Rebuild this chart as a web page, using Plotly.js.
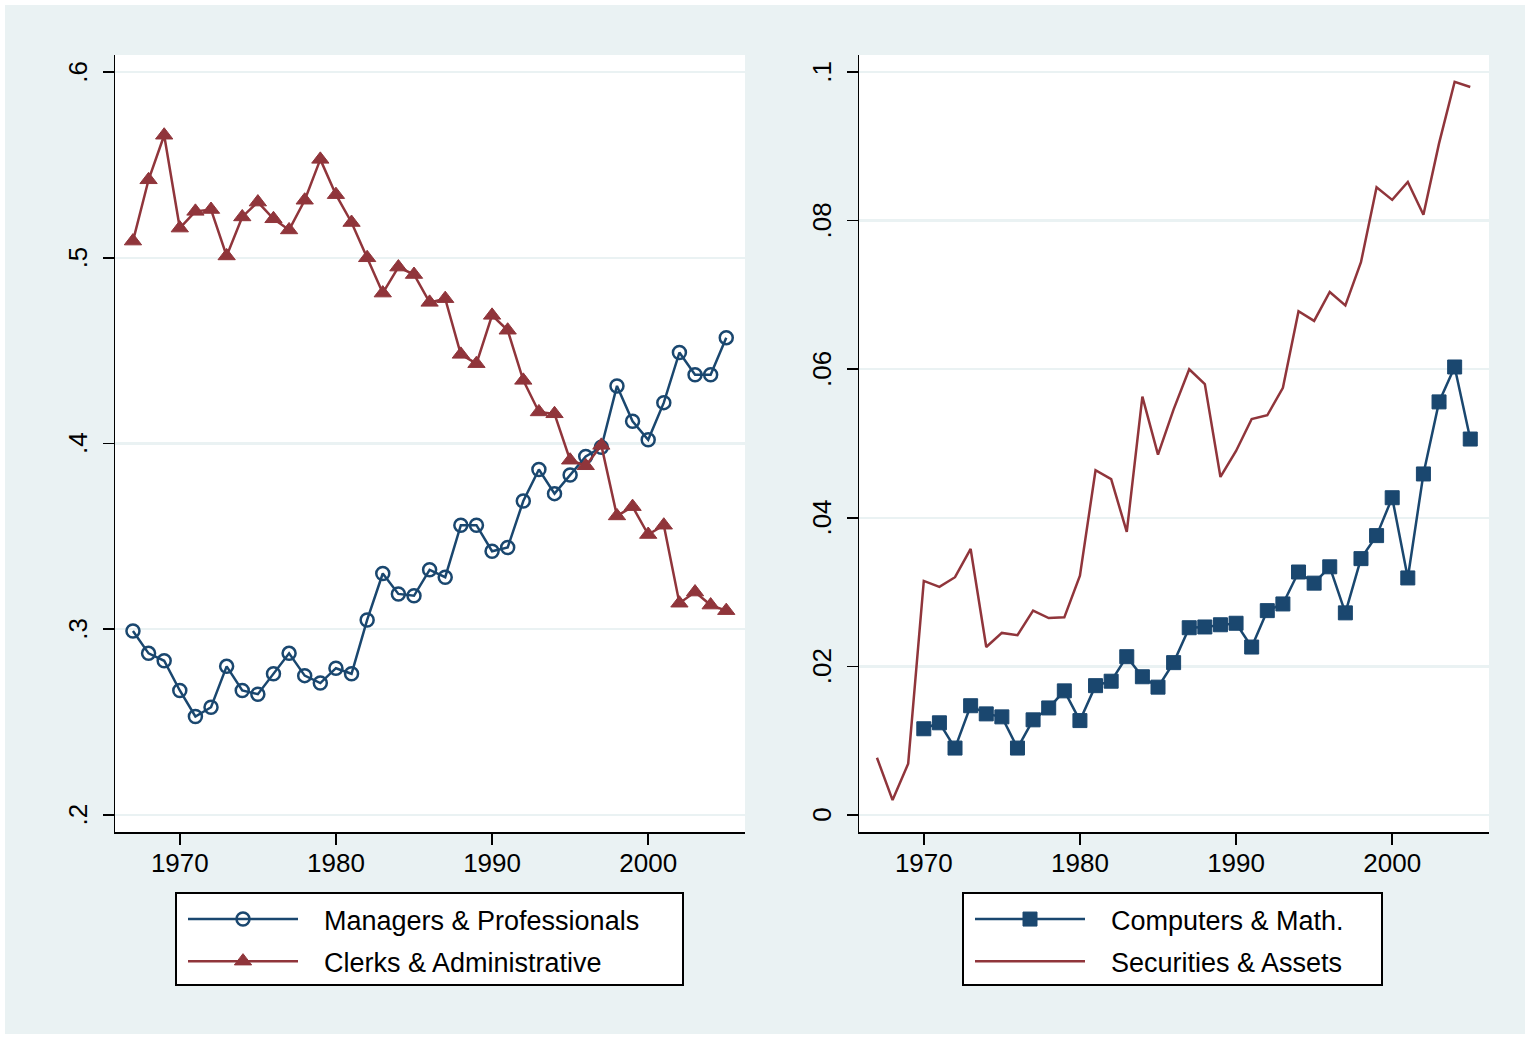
<!DOCTYPE html>
<html>
<head>
<meta charset="utf-8">
<script src="https://cdn.plot.ly/plotly-3.0.1.min.js"></script>
<style>
  html, body { margin: 0; padding: 0; background: #ffffff; }
  #chart { width: 1530px; height: 1039px; }
</style>
</head>
<body>
<div id="chart"></div>
<script>
// ---------- data ----------
var years = [1967, 1968, 1969, 1970, 1971, 1972, 1973, 1974, 1975, 1976,
             1977, 1978, 1979, 1980, 1981, 1982, 1983, 1984, 1985, 1986,
             1987, 1988, 1989, 1990, 1991, 1992, 1993, 1994, 1995, 1996,
             1997, 1998, 1999, 2000, 2001, 2002, 2003, 2004, 2005];

var managers = [0.299, 0.287, 0.283, 0.267, 0.253, 0.258, 0.280, 0.267, 0.265, 0.276,
                0.287, 0.275, 0.271, 0.279, 0.276, 0.305, 0.330, 0.319, 0.318, 0.332,
                0.328, 0.356, 0.356, 0.342, 0.344, 0.369, 0.386, 0.373, 0.383, 0.393,
                0.398, 0.431, 0.412, 0.402, 0.422, 0.449, 0.437, 0.437, 0.457];

var clerks = [0.509, 0.542, 0.566, 0.516, 0.525, 0.526, 0.501, 0.522, 0.530, 0.521,
              0.515, 0.531, 0.553, 0.534, 0.519, 0.500, 0.481, 0.495, 0.491, 0.476,
              0.478, 0.448, 0.443, 0.469, 0.461, 0.434, 0.417, 0.416, 0.391, 0.388,
              0.399, 0.361, 0.366, 0.351, 0.356, 0.314, 0.320, 0.313, 0.310];

var compYears = [1970, 1971, 1972, 1973, 1974, 1975, 1976, 1977, 1978, 1979,
                 1980, 1981, 1982, 1983, 1984, 1985, 1986, 1987, 1988, 1989,
                 1990, 1991, 1992, 1993, 1994, 1995, 1996, 1997, 1998, 1999,
                 2000, 2001, 2002, 2003, 2004, 2005];

var computers = [0.0116, 0.0124, 0.0090, 0.0147, 0.0136, 0.0132, 0.0090, 0.0128, 0.0144, 0.0167,
                 0.0127, 0.0174, 0.0180, 0.0213, 0.0186, 0.0172, 0.0205, 0.0252, 0.0253, 0.0256,
                 0.0258, 0.0226, 0.0275, 0.0284, 0.0327, 0.0312, 0.0334, 0.0272, 0.0345, 0.0376,
                 0.0427, 0.0319, 0.0459, 0.0556, 0.0603, 0.0506];

var securities = [0.0077, 0.0020, 0.0069, 0.0315, 0.0307, 0.0320, 0.0358, 0.0226, 0.0245, 0.0242,
                  0.0275, 0.0265, 0.0266, 0.0322, 0.0464, 0.0452, 0.0381, 0.0563, 0.0485, 0.0546,
                  0.0600, 0.0580, 0.0455, 0.0490, 0.0533, 0.0538, 0.0575, 0.0678, 0.0665, 0.0704,
                  0.0686, 0.0744, 0.0845, 0.0828, 0.0852, 0.0808, 0.0904, 0.0987, 0.0980];

var xTicks = [1970, 1980, 1990, 2000];
var xTickText = ['1970', '1980', '1990', '2000'];
var yLeftTicks = [0.2, 0.3, 0.4, 0.5, 0.6];
var yLeftText = ['.2', '.3', '.4', '.5', '.6'];
var yRightTicks = [0, 0.02, 0.04, 0.06, 0.08, 0.1];
var yRightText = ['0', '.02', '.04', '.06', '.08', '.1'];

var names = ['Managers & Professionals', 'Clerks & Administrative',
             'Computers & Math.', 'Securities & Assets'];

// ---------- styling ----------
var NAVY = '#1a476f';
var MAROON = '#90353b';
var BG = '#eaf2f3';
var FONT = 'Liberation Sans, Arial, Helvetica, sans-serif';
var W = 1530, H = 1039;
var lead = '\u2002\u00a0';   // gap between legend key and label
var tail = '\u00a0';         // nudges rotated y labels to centre on tick

var traces = [
  { x: years, y: managers, name: lead + names[0], type: 'scatter', mode: 'lines+markers',
    xaxis: 'x', yaxis: 'y', legend: 'legend', legendgroup: 'a',
    line: { color: NAVY, width: 2.5 },
    marker: { symbol: 'circle-open', size: 13, color: NAVY, line: { color: NAVY, width: 2.5 } } },
  { x: years, y: clerks, name: lead + names[1], type: 'scatter', mode: 'lines+markers',
    xaxis: 'x', yaxis: 'y', legend: 'legend', legendgroup: 'b',
    line: { color: MAROON, width: 2.5 },
    marker: { symbol: 'triangle-up', size: 15, color: MAROON, line: { color: MAROON, width: 1 } } },
  { x: compYears, y: computers, name: lead + names[2], type: 'scatter', mode: 'lines+markers',
    xaxis: 'x2', yaxis: 'y2', legend: 'legend2', legendgroup: 'c',
    line: { color: NAVY, width: 2.5 },
    marker: { symbol: 'square', size: 14, color: NAVY, line: { color: NAVY, width: 1 } } },
  { x: years, y: securities, name: lead + names[3], type: 'scatter', mode: 'lines',
    xaxis: 'x2', yaxis: 'y2', legend: 'legend2', legendgroup: 'd',
    line: { color: MAROON, width: 2.5 } }
];

function xAxis(domain, anchor) {
  return {
    domain: domain, anchor: anchor, range: [1965.85, 2006.2],
    tickmode: 'array', tickvals: xTicks, ticktext: xTickText,
    ticks: 'outside', ticklen: 11, tickwidth: 1.5, tickcolor: '#000',
    ticklabelstandoff: -4,
    showline: true, linecolor: '#000', linewidth: 1.5,
    showgrid: false, zeroline: false, fixedrange: true,
    tickfont: { family: FONT, size: 26, color: '#000' }
  };
}
function yAxis(domain, anchor, range, vals, text) {
  return {
    domain: domain, anchor: anchor, range: range,
    tickmode: 'array', tickvals: vals,
    ticktext: text.map(function (t) { return t + tail; }), tickangle: -90,
    ticks: 'outside', ticklen: 11, tickwidth: 1.5, tickcolor: '#000',
    ticklabelstandoff: 5,
    showline: true, linecolor: '#000', linewidth: 1.5,
    showgrid: true, gridcolor: BG, gridwidth: 2.5,
    zeroline: false, fixedrange: true,
    tickfont: { family: FONT, size: 26, color: '#000' }
  };
}

var yDom = [1 - 832 / H, 1 - 55 / H];
function legendAt(xpx) {
  return {
    x: xpx / W, y: 1 - 895 / H, xanchor: 'left', yanchor: 'top',
    orientation: 'v', bgcolor: 'rgba(0,0,0,0)', borderwidth: 0,
    itemwidth: 110, traceorder: 'grouped', tracegroupgap: 4,
    font: { family: FONT, size: 27, color: '#000' }, itemclick: false, itemdoubleclick: false
  };
}
function legendFrame(x0, x1) {
  return { type: 'rect', xref: 'paper', yref: 'paper',
           x0: x0 / W, x1: x1 / W, y0: 1 - 985 / H, y1: 1 - 893 / H,
           line: { color: '#000', width: 2 }, fillcolor: '#ffffff', layer: 'above' };
}

var layout = {
  width: W, height: H,
  margin: { l: 0, r: 0, t: 0, b: 0 },
  paper_bgcolor: BG, plot_bgcolor: '#ffffff',
  showlegend: true,
  font: { family: FONT, color: '#000' },
  xaxis: xAxis([115 / W, 745 / W], 'y'),
  yaxis: yAxis(yDom, 'x', [0.1908, 0.6092], yLeftTicks, yLeftText),
  xaxis2: xAxis([859 / W, 1489 / W], 'y2'),
  yaxis2: yAxis(yDom, 'x2', [-0.0023, 0.1023], yRightTicks, yRightText),
  legend: legendAt(183),
  legend2: legendAt(970),
  shapes: [
    legendFrame(176, 683),
    legendFrame(963, 1382),
    { type: 'rect', xref: 'paper', yref: 'paper', x0: 0, x1: 1, y0: 0, y1: 1,
      line: { color: '#ffffff', width: 10 }, fillcolor: 'rgba(0,0,0,0)', layer: 'above' }
  ],
  hovermode: false
};

Plotly.newPlot('chart', traces, layout, { staticPlot: true, displayModeBar: false });
</script>
</body>
</html>
